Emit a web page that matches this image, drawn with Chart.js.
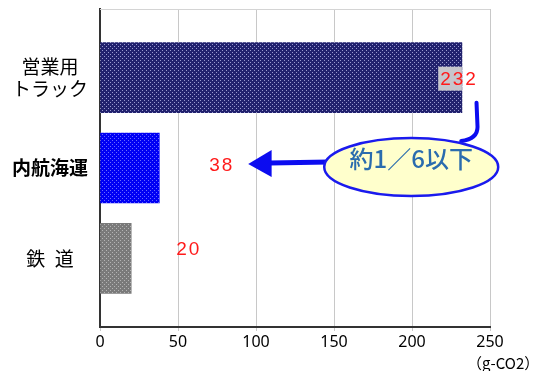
<!DOCTYPE html>
<html>
<head>
<meta charset="utf-8">
<script src="https://cdn.jsdelivr.net/npm/chart.js@4"></script>
<style>
  html, body { margin: 0; padding: 0; background: #fff; }
  #wrap { width: 538px; height: 371px; }
</style>
</head>
<body>
<div id="wrap"><canvas id="co2Chart" width="538" height="371"></canvas></div>
<script>
// categories (top to bottom) and CO2 per ton-km
const categories = [['営業用', 'トラック'], '内航海運', '鉄\u2002道'];
const co2Values = [232, 38, 20];
const xTicks = [0, 50, 100, 150, 200, 250];
const unitLabel = '（g-CO2）';
const calloutText = '約1／6以下';

const jpFont = '"Noto Sans CJK JP", "Noto Sans", sans-serif';
const yMin = -0.76, yMax = 2.76;

// small dotted tile like the old Excel pattern fills
function dotPattern(base, dot) {
    const c = document.createElement('canvas');
    c.width = 4; c.height = 4;
    const g = c.getContext('2d');
    g.fillStyle = base;
    g.fillRect(0, 0, 4, 4);
    g.fillStyle = dot;
    g.fillRect(0, 0, 1, 1);
    g.fillRect(2, 2, 1, 1);
    return g.createPattern(c, 'repeat');
}

const fills = [
    dotPattern('#22226e', '#9a9ad0'),
    dotPattern('#0000f4', '#6a6aff'),
    dotPattern('#7a7a7a', '#b4b4b4')
];

const annotations = {
    id: 'annotations',
    afterDatasetsDraw(chart) {
        const ctx = chart.ctx;
        const area = chart.chartArea;
        const meta = chart.getDatasetMeta(0);

        // light top frame line
        ctx.save();
        ctx.strokeStyle = '#d4d4d4';
        ctx.lineWidth = 1;
        ctx.beginPath();
        ctx.moveTo(area.left, area.top + 0.5);
        ctx.lineTo(area.right, area.top + 0.5);
        ctx.stroke();
        ctx.restore();

        // value labels
        ctx.save();
        ctx.font = '19px "Liberation Sans", Arial, sans-serif';
        ctx.letterSpacing = '2px';
        ctx.textBaseline = 'middle';
        meta.data.forEach((bar, i) => {
            const txt = String(co2Values[i]);
            if (i === 0) {
                const w = ctx.measureText(txt).width;
                const right = bar.x + 16;
                ctx.fillStyle = '#c6c6cc';
                ctx.fillRect(right - w - 2, bar.y - 11, bar.x - (right - w - 2), 24);
                ctx.fillStyle = '#ff1a1a';
                ctx.textAlign = 'left';
                ctx.fillText(txt, right - w, bar.y + 2);
            } else {
                ctx.fillStyle = '#ff1a1a';
                ctx.textAlign = 'left';
                ctx.fillText(txt, bar.x + (i === 1 ? 50 : 45), bar.y + (i === 1 ? -2 : -9));
            }
        });
        ctx.restore();

        // callout: arrow toward the shipping value, ellipse and connector
        const x = chart.scales.x;
        const yMid = meta.data[1].y;
        const tipX = x.getPixelForValue(95);
        const baseX = x.getPixelForValue(110);
        const lineEnd = x.getPixelForValue(147);
        const ex = x.getPixelForValue(199.5);
        const ey = yMid - 1;
        const blue = '#0c0cf0';

        ctx.save();
        ctx.strokeStyle = blue;
        ctx.fillStyle = blue;
        ctx.lineWidth = 5;
        ctx.beginPath();
        ctx.moveTo(lineEnd, yMid - 6);
        ctx.lineTo(baseX - 2, yMid - 5);
        ctx.stroke();
        ctx.beginPath();
        ctx.moveTo(tipX, yMid - 4);
        ctx.lineTo(baseX, yMid - 18);
        ctx.lineTo(baseX, yMid + 9);
        ctx.closePath();
        ctx.fill();

        // connector up to the truck bar
        const cx = x.getPixelForValue(242);
        ctx.lineWidth = 4;
        ctx.lineCap = 'round';
        ctx.beginPath();
        ctx.moveTo(ex + 50, ey - 26);
        ctx.quadraticCurveTo(cx, ey - 28, cx, ey - 40);
        ctx.lineTo(cx - 1, meta.data[0].y + 25);
        ctx.stroke();

        ctx.beginPath();
        ctx.ellipse(ex, ey, 87, 29, 0, 0, Math.PI * 2);
        ctx.fillStyle = '#ffffcc';
        ctx.fill();
        ctx.lineWidth = 2.5;
        ctx.strokeStyle = '#1a1aee';
        ctx.stroke();

        ctx.fillStyle = '#2a6cae';
        ctx.font = '500 24px ' + jpFont;
        ctx.textAlign = 'center';
        ctx.textBaseline = 'middle';
        ctx.fillText(calloutText, ex, ey - 8);
        ctx.restore();

        // unit under the axis
        ctx.save();
        ctx.fillStyle = '#000';
        ctx.font = '15px ' + jpFont;
        ctx.textAlign = 'left';
        ctx.textBaseline = 'alphabetic';
        ctx.fillText(unitLabel, x.right - 23, 369);
        ctx.restore();
    }
};

new Chart(document.getElementById('co2Chart'), {
    type: 'bar',
    data: {
        datasets: [{
            data: co2Values.map((v, i) => ({ x: v, y: i })),
            backgroundColor: fills,
            borderWidth: 0,
            barThickness: 70
        }]
    },
    options: {
        indexAxis: 'y',
        responsive: false,
        animation: false,
        layout: { padding: { top: 9, right: 48, left: 0, bottom: 0 } },
        plugins: {
            legend: { display: false },
            tooltip: { enabled: false }
        },
        scales: {
            x: {
                type: 'linear',
                min: xTicks[0],
                max: xTicks[xTicks.length - 1],
                afterBuildTicks: axis => { axis.ticks = xTicks.map(v => ({ value: v })); },
                afterFit: axis => { axis.height = 44; },
                grid: { color: '#c8c8c8', lineWidth: 1, tickLength: 4 },
                border: { color: '#333', width: 2 },
                ticks: {
                    color: '#000',
                    padding: 2,
                    font: { family: '"Noto Sans", sans-serif', size: 16 }
                }
            },
            y: {
                type: 'linear',
                min: yMin,
                max: yMax,
                reverse: true,
                offset: false,
                afterBuildTicks: axis => {
                    axis.ticks = [yMin, ...categories.map((c, i) => i), yMax].map(v => ({ value: v }));
                },
                afterFit: axis => {
                    axis.width = 100;
                    axis.paddingTop = 0;
                    axis.paddingBottom = 0;
                },
                grid: { display: false, drawTicks: false },
                border: { color: '#333', width: 2 },
                ticks: {
                    color: '#000',
                    padding: 12,
                    crossAlign: 'center',
                    autoSkip: false,
                    callback: v => (Number.isInteger(v) ? categories[v] : ''),
                    font: ctx => ({
                        family: jpFont,
                        size: 19,
                        lineHeight: 1.16,
                        weight: ctx.tick && ctx.tick.value === 1 ? 'bold' : 'normal'
                    })
                }
            }
        }
    },
    plugins: [annotations]
});
</script>
</body>
</html>
